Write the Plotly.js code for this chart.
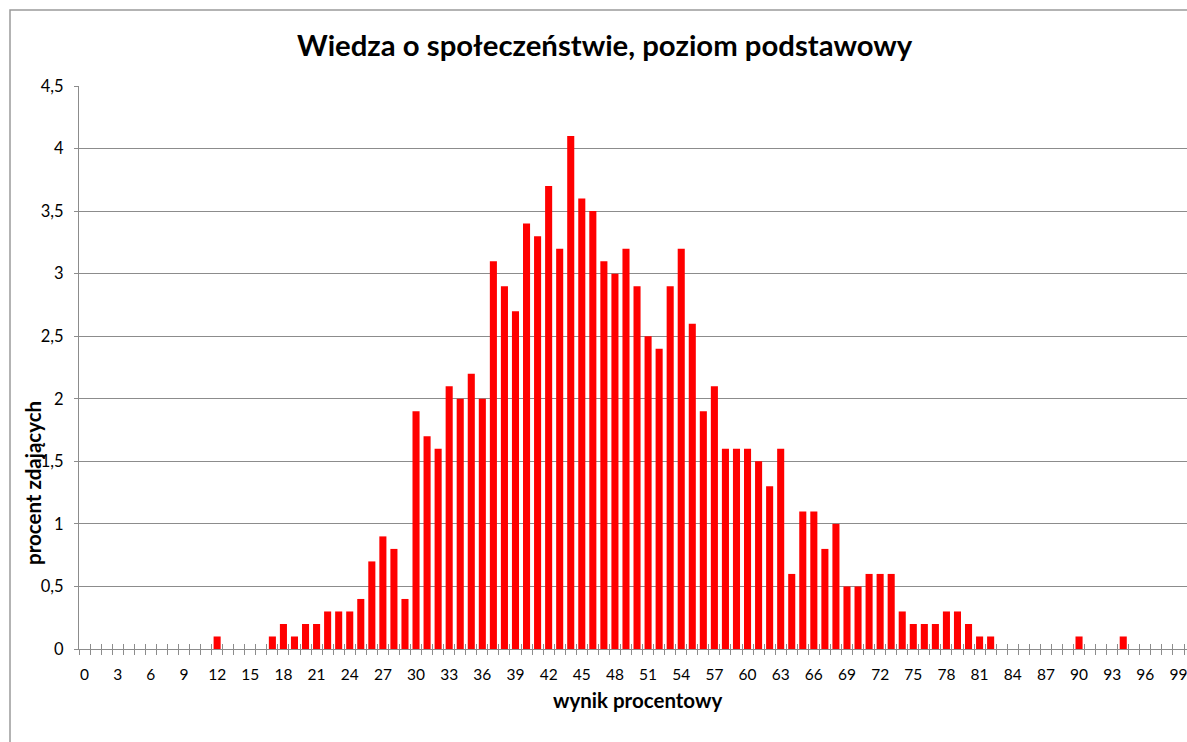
<!DOCTYPE html>
<html>
<head>
<meta charset="utf-8">
<script src="https://cdn.plot.ly/plotly-3.0.1.min.js"></script>
<style>
  html, body { margin: 0; padding: 0; background: #fff; overflow: hidden; }
  #chart { width: 1187px; height: 742px; }
</style>
</head>
<body>
<div id="chart"></div>
<script>
// ---- data ----
const scores = Array.from({length: 100}, (_, i) => i); // wynik procentowy 0..99
const percent = [
  0, 0, 0, 0, 0, 0, 0, 0, 0, 0,          // 0-9
  0, 0, 0.1, 0, 0, 0, 0, 0.1, 0.2, 0.1,  // 10-19
  0.2, 0.2, 0.3, 0.3, 0.3, 0.4, 0.7, 0.9, 0.8, 0.4, // 20-29
  1.9, 1.7, 1.6, 2.1, 2.0, 2.2, 2.0, 3.1, 2.9, 2.7, // 30-39
  3.4, 3.3, 3.7, 3.2, 4.1, 3.6, 3.5, 3.1, 3.0, 3.2, // 40-49
  2.9, 2.5, 2.4, 2.9, 3.2, 2.6, 1.9, 2.1, 1.6, 1.6, // 50-59
  1.6, 1.5, 1.3, 1.6, 0.6, 1.1, 1.1, 0.8, 1.0, 0.5, // 60-69
  0.5, 0.6, 0.6, 0.6, 0.3, 0.2, 0.2, 0.2, 0.3, 0.3, // 70-79
  0.2, 0.1, 0.1, 0, 0, 0, 0, 0, 0, 0,    // 80-89
  0.1, 0, 0, 0, 0.1, 0, 0, 0, 0, 0       // 90-99
];
const xTickVals = Array.from({length: 34}, (_, i) => i * 3);
const xTickText = xTickVals.map(String);
const yTickVals = [0, 0.5, 1, 1.5, 2, 2.5, 3, 3.5, 4, 4.5];
const yTickText = ['0', '0,5', '1', '1,5', '2', '2,5', '3', '3,5', '4', '4,5'];

const titleText = 'Wiedza o społeczeństwie, poziom podstawowy';
const xTitle = 'wynik procentowy';
const yTitle = 'procent zdających';

// ---- layout ----
const M = {l: 79, r: 0, t: 86, b: 93};
const W = 1187, H = 742;
const pw = W - M.l - M.r, ph = H - M.t - M.b;
const px = v => (v - M.l) / pw;          // pixel x -> paper
const py = v => (H - M.b - v) / ph;      // pixel y -> paper

const FONT = 'Lato, "Open Sans", sans-serif';
const axisGrey = '#8c8c8c';
const xRange = [-0.5, 99.77];

const traces = [
  {
    type: 'bar', x: scores, y: percent,
    marker: {color: '#ff0000', line: {width: 0}},
    hoverinfo: 'x+y', xaxis: 'x', yaxis: 'y'
  },
  {type: 'scatter', x: [], y: [], xaxis: 'x2', yaxis: 'y', showlegend: false, hoverinfo: 'skip'},
  {type: 'scatter', x: [], y: [], xaxis: 'x3', yaxis: 'y', showlegend: false, hoverinfo: 'skip'}
];

const layout = {
  width: W, height: H,
  margin: M,
  paper_bgcolor: '#ffffff', plot_bgcolor: '#ffffff',
  showlegend: false,
  bargap: 0.36,
  font: {family: FONT, color: '#000', size: 16},
  xaxis: {
    type: 'linear', range: xRange, fixedrange: true,
    tickmode: 'array', tickvals: xTickVals, ticktext: xTickText,
    ticks: '', showgrid: false, zeroline: false,
    showline: true, linecolor: axisGrey, linewidth: 1,
    tickfont: {family: FONT, size: 15.5, color: '#000'},
    ticklabelstandoff: 11,
    ticklabeloverflow: 'allow'
  },
  xaxis2: {
    type: 'linear', range: xRange, overlaying: 'x', anchor: 'y', side: 'bottom',
    tickmode: 'linear', tick0: -0.5, dtick: 1,
    ticks: 'outside', ticklen: 5, tickcolor: axisGrey, tickwidth: 1,
    showticklabels: false, showgrid: false, zeroline: false, showline: false, fixedrange: true
  },
  xaxis3: {
    type: 'linear', range: xRange, overlaying: 'x', anchor: 'y', side: 'bottom',
    tickmode: 'linear', tick0: -0.5, dtick: 1,
    ticks: 'inside', ticklen: 5, tickcolor: axisGrey, tickwidth: 1,
    showticklabels: false, showgrid: false, zeroline: false, showline: false, fixedrange: true
  },
  yaxis: {
    range: [0, 4.5], fixedrange: true,
    tickmode: 'array', tickvals: yTickVals, ticktext: yTickText,
    ticks: 'outside', ticklen: 4, tickcolor: axisGrey,
    showgrid: true, gridcolor: axisGrey, gridwidth: 1,
    zeroline: false, showline: true, linecolor: axisGrey, linewidth: 1,
    tickfont: {family: FONT, size: 16.5, color: '#000'},
    ticklabelstandoff: 7
  },
  shapes: [
    {type: 'rect', xref: 'paper', yref: 'paper',
     x0: px(10), x1: px(1250), y0: py(800), y1: py(10),
     line: {color: '#9a9a9a', width: 1.5}, fillcolor: 'rgba(0,0,0,0)', layer: 'below'}
  ],
  annotations: [
    {text: '<b>' + titleText + '</b>', xref: 'paper', yref: 'paper',
     x: px(605), y: py(45), xanchor: 'center', yanchor: 'middle', showarrow: false,
     font: {family: FONT, size: 29.3, color: '#000'}},
    {text: '<b>' + xTitle + '</b>', xref: 'paper', yref: 'paper',
     x: px(637), y: py(700), xanchor: 'center', yanchor: 'middle', showarrow: false,
     font: {family: FONT, size: 20.5, color: '#000'}},
    {text: '<b>' + yTitle + '</b>', xref: 'paper', yref: 'paper',
     x: px(33), y: py(483), xanchor: 'center', yanchor: 'middle', showarrow: false,
     textangle: -90,
     font: {family: FONT, size: 20.5, color: '#000'}}
  ]
};

Plotly.newPlot('chart', traces, layout, {displayModeBar: false, staticPlot: true});
</script>
</body>
</html>
